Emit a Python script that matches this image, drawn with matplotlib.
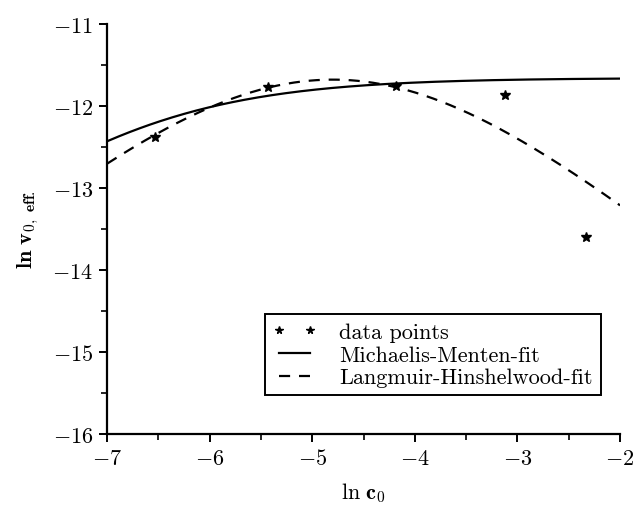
"""
Initial rate vs. concentration (log-log) with Michaelis-Menten and
Langmuir-Hinshelwood fits.
"""

import numpy as np
import matplotlib.pyplot as plt
from matplotlib.ticker import MultipleLocator

plt.rcParams['font.family'] = 'serif'
plt.rcParams['font.serif'] = ['cmr10', 'DejaVu Serif']
plt.rcParams['mathtext.fontset'] = 'cm'
plt.rcParams['axes.formatter.use_mathtext'] = True

# measured points (ln c0, ln v0,eff)
ln_c0 = [-6.53, -5.43, -4.18, -3.12, -2.33]
ln_v0 = [-12.38, -11.77, -11.76, -11.87, -13.60]

# Michaelis-Menten fit: v = vmax * c / (Km + c)
MM_LN_VMAX = -11.66
MM_KM = 0.00106

# Langmuir-Hinshelwood fit: v = k * c / (1 + K c)^2
LH_LN_K_RATE = -5.494
LH_LN_K_ADS = 4.8

x_range = (-7, -2)
y_range = (-16, -11)


def michaelis_menten(x):
    c = np.exp(x)
    return MM_LN_VMAX + x - np.log(MM_KM + c)


def langmuir_hinshelwood(x):
    c = np.exp(x)
    return LH_LN_K_RATE + x - 2 * np.log(1 + np.exp(LH_LN_K_ADS) * c)


fig = plt.figure(figsize=(6.34, 5.06), dpi=100)
ax = fig.add_axes([0.169, 0.140, 0.809, 0.811])

xs = np.linspace(x_range[0], x_range[1], 300)
ax.plot(ln_c0, ln_v0, linestyle='none', marker='*', color='black',
        markersize=7, label='data points')
ax.plot(xs, michaelis_menten(xs), color='black', lw=1.6,
        label='Michaelis-Menten-fit')
ax.plot(xs, langmuir_hinshelwood(xs), color='black', lw=1.6,
        linestyle=(0, (5, 4)), label='Langmuir-Hinshelwood-fit')

ax.set_xlim(*x_range)
ax.set_ylim(*y_range)
ax.xaxis.set_major_locator(MultipleLocator(1))
ax.xaxis.set_minor_locator(MultipleLocator(0.5))
ax.yaxis.set_major_locator(MultipleLocator(1))
ax.yaxis.set_minor_locator(MultipleLocator(0.5))

for side in ('top', 'right'):
    ax.spines[side].set_visible(False)
for side in ('left', 'bottom'):
    ax.spines[side].set_linewidth(1.6)

ax.tick_params(which='major', direction='out', length=6, width=1.4,
               labelsize=16, pad=4)
ax.tick_params(which='minor', direction='out', length=4, width=1.2)

ax.set_xlabel(r'$\mathrm{ln}\ \mathbf{c}_\mathbf{0}$', fontsize=16,
              labelpad=9)
ax.set_ylabel(r'$\mathbf{ln}\ \mathbf{v}_{\mathbf{0,\ eff.}}$', fontsize=16,
              labelpad=8)

leg = ax.legend(loc='lower right', bbox_to_anchor=(0.962, 0.095),
                numpoints=2, fontsize=16, fancybox=False, framealpha=1,
                edgecolor='black', handlelength=2.0, borderpad=0.35,
                borderaxespad=0, labelspacing=0.15, handletextpad=1.0,
                markerscale=0.8)
leg.get_frame().set_linewidth(1.4)

fig.savefig('out.png', dpi=100)
